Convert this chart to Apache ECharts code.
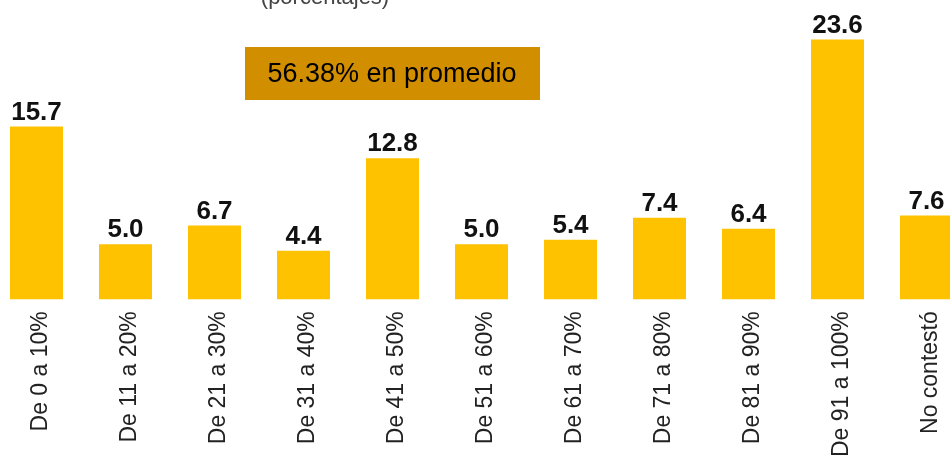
<!DOCTYPE html>
<html>
<head>
<meta charset="utf-8">
<script src="https://cdn.jsdelivr.net/npm/echarts@6/dist/echarts.min.js"></script>
<style>html,body{margin:0;padding:0;background:#fff;overflow:hidden;width:950px;height:460px;position:relative}#c{position:absolute;left:-8px;top:0;width:979px;height:460px}</style>
</head>
<body>
<div id="c"></div>
<script>
const categories = ['De 0 a 10%','De 11 a 20%','De 21 a 30%','De 31 a 40%','De 41 a 50%','De 51 a 60%','De 61 a 70%','De 71 a 80%','De 81 a 90%','De 91 a 100%','No contestó'];
const values = [15.7, 5.0, 6.7, 4.4, 12.8, 5.0, 5.4, 7.4, 6.4, 23.6, 7.6];
const subtitle = '(porcentajes)';
const averageText = '56.38% en promedio';

const font = 'Liberation Sans, Arial, Helvetica, sans-serif';
const OX = 8; // container offset
const chart = echarts.init(document.getElementById('c'));
chart.setOption({
  animation: false,
  grid: { left: 0, width: 979, top: 2, height: 302, containLabel: false },
  xAxis: {
    type: 'category',
    data: categories,
    axisLine: { show: false },
    axisTick: { show: false },
    axisLabel: { rotate: 90, interval: 0, margin: 12, fontSize: 23, color: '#222', fontFamily: font, verticalAlign: 'top', lineHeight: 9 }
  },
  yAxis: { type: 'value', min: 0, max: 27, show: false, splitLine: { show: false } },
  series: [{
    type: 'bar',
    data: values,
    barWidth: 53,
    itemStyle: { color: '#FEC200' },
    label: {
      show: true, position: 'top', distance: 1,
      fontSize: 26, fontWeight: 'bold', color: '#111', fontFamily: font,
      formatter: p => p.value.toFixed(1)
    }
  }],
  graphic: [
    { type: 'text', x: 325 + OX, y: 9,
      style: { text: subtitle, font: '22px ' + font, fill: '#444', textAlign: 'center', textVerticalAlign: 'bottom' } },
    { type: 'rect', shape: { x: 245 + OX, y: 47, width: 295, height: 53 }, style: { fill: '#D18F00' } },
    { type: 'text', x: 392 + OX, y: 75,
      style: { text: averageText, font: '27px ' + font, fill: '#000', textAlign: 'center', textVerticalAlign: 'middle' } }
  ]
});
</script>
</body>
</html>
